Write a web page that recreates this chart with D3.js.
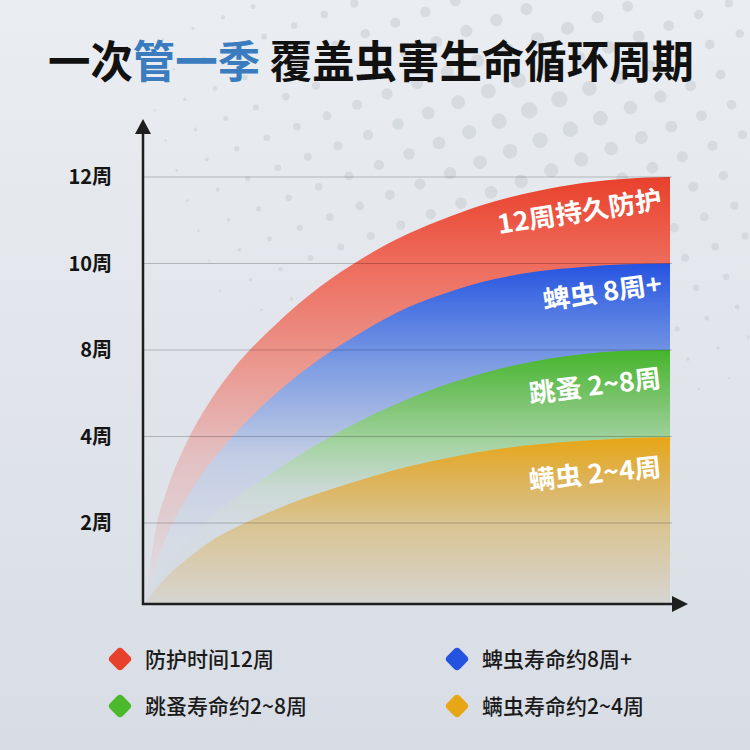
<!DOCTYPE html>
<html>
<head>
<meta charset="utf-8">
<script src="https://cdn.jsdelivr.net/npm/d3@7"></script>
<style>
  html, body { margin: 0; padding: 0; background: #e2e6ec; }
  svg { display: block; }
</style>
</head>
<body>
<div id="chart"></div>
<script>
// Data (levels: 1 = 2周 ... 5 = 12周)
const weeks      = [0, 0.25, 0.5, 1, 1.5, 2, 3, 4, 5, 6, 7, 8, 9, 10, 11, 12];
const protectTop = [0.065, 0.95, 1.38, 1.98, 2.42, 2.77, 3.30, 3.73, 4.07, 4.34, 4.55, 4.72, 4.84, 4.93, 4.98, 5.0];
const tickTop    = [0.065, 0.50, 0.85, 1.33, 1.70, 2.00, 2.50, 2.90, 3.22, 3.49, 3.68, 3.82, 3.91, 3.96, 3.99, 4.0];
const fleaTop    = [0.065, 0.30, 0.50, 0.80, 1.05, 1.26, 1.61, 1.93, 2.20, 2.43, 2.62, 2.77, 2.88, 2.95, 2.99, 3.0];
const miteTop    = [0.065, 0.24, 0.38, 0.60, 0.79, 0.93, 1.16, 1.35, 1.51, 1.65, 1.76, 1.85, 1.91, 1.95, 1.98, 1.99];
const baseLevel = 0.065;

const tickLabels = ["2周", "4周", "8周", "10周", "12周"];
const bandLabels = ["12周持久防护", "蜱虫 8周+", "跳蚤 2~8周", "螨虫 2~4周"];
const legendLabels = ["防护时间12周", "蜱虫寿命约8周+", "跳蚤寿命约2~8周", "螨虫寿命约2~4周"];
const colors = ["#e8412b", "#2553e0", "#4cb82c", "#e6a616"];

const width = 750, height = 750;
const svg = d3.select("#chart").append("svg")
    .attr("width", width)
    .attr("height", height);

const defs = svg.append("defs");

// background gradient
const bg = defs.append("linearGradient").attr("id", "bg")
    .attr("x1", 0).attr("y1", 0).attr("x2", 0).attr("y2", 1);
bg.append("stop").attr("offset", 0).attr("stop-color", "#eaedf1");
bg.append("stop").attr("offset", 1).attr("stop-color", "#d8dde5");
svg.append("rect").attr("width", width).attr("height", height).attr("fill", "url(#bg)");

// halftone dots in the top right
const dots = [];
const ang = -20 * Math.PI / 180;
for (let i = -12; i < 30; i++) {
    for (let j = -12; j < 30; j++) {
        const gx = i * 32, gy = j * 32;
        const px = 100 + gx * Math.cos(ang) - gy * Math.sin(ang);
        const py = -40 + gx * Math.sin(ang) + gy * Math.cos(ang);
        const d = Math.hypot(px - 540, (py - 110) * 1.25);
        const r = 8.5 - d / 52;
        if (r > 0.8 && px > 0 && px < width && py > 0 && py < 520) dots.push([px, py, r]);
    }
}
svg.append("g").selectAll("circle")
    .data(dots)
    .enter().append("circle")
    .attr("cx", d => d[0]).attr("cy", d => d[1]).attr("r", d => d[2])
    .attr("fill", "#c9cdd4").attr("opacity", 0.55);

// scales
const x = d3.scaleLinear().domain([0, 12]).range([145, 670]);
const y = d3.scaleLinear().domain([1, 5]).range([523, 177]);
const axisX = 143, axisY = y(baseLevel);

// band gradients, each fading from its colour to pale grey
const gradStops = [
    [[0, "#e8412b"], [0.2, "#ee6a5a"], [0.45, "#eb978e"], [0.68, "#e3c0c2"], [1, "#dcdde3"]],
    [[0, "#2553e0"], [0.15, "#4a73e2"], [0.37, "#7e9de3"], [0.7, "#c3cde4"], [1, "#d6dce6"]],
    [[0, "#45b52a"], [0.3, "#7cc470"], [0.55, "#a7d4a5"], [0.8, "#cbd9d6"], [1, "#d5dbe2"]],
    [[0, "#e7a616"], [0.25, "#ddb358"], [0.5, "#d9c38f"], [0.75, "#d8ccb0"], [1, "#d6d5d2"]]
];
const gradRange = [[177, 590], [263, 540], [350, 525], [438, 604]];
gradStops.forEach((stops, i) => {
    const g = defs.append("linearGradient").attr("id", "band" + i)
        .attr("gradientUnits", "userSpaceOnUse")
        .attr("x1", 0).attr("x2", 0)
        .attr("y1", gradRange[i][0]).attr("y2", gradRange[i][1]);
    stops.forEach(s => g.append("stop").attr("offset", s[0]).attr("stop-color", s[1]));
});

// draw the bands (each from its curve down to the axis)
const series = [protectTop, tickTop, fleaTop, miteTop];
const area = d3.area()
    .x(d => x(d[0]))
    .y0(axisY)
    .y1(d => y(d[1]))
    .curve(d3.curveMonotoneX);

svg.append("g").selectAll("path")
    .data(series)
    .enter().append("path")
    .attr("d", s => area(weeks.map((w, k) => [w, s[k]])))
    .attr("fill", (s, i) => `url(#band${i})`);

// gridlines
svg.append("g").selectAll("line")
    .data(tickLabels)
    .enter().append("line")
    .attr("x1", axisX).attr("x2", x(12) + 2)
    .attr("y1", (d, i) => y(i + 1)).attr("y2", (d, i) => y(i + 1))
    .attr("stroke", "#000").attr("stroke-opacity", 0.22).attr("stroke-width", 1.2);

// tick labels
svg.append("g").selectAll("text")
    .data(tickLabels)
    .enter().append("text")
    .attr("x", 112).attr("y", (d, i) => y(i + 1))
    .attr("dy", "0.36em")
    .attr("text-anchor", "end")
    .attr("font-family", "'Noto Sans CJK SC', sans-serif")
    .attr("font-weight", 700).attr("font-size", 20)
    .attr("fill", "#141414")
    .text(d => d);

// axes with arrows
const axes = svg.append("g").attr("stroke", "#1e1e1e").attr("stroke-width", 2.5).attr("fill", "none");
axes.append("line").attr("x1", axisX).attr("y1", axisY + 1).attr("x2", axisX).attr("y2", 130);
axes.append("line").attr("x1", axisX - 1).attr("y1", axisY).attr("x2", 676).attr("y2", axisY);
svg.append("path")
    .attr("d", `M${axisX},119 L${axisX - 8},134 L${axisX + 8},134 Z`)
    .attr("fill", "#1e1e1e");
svg.append("path")
    .attr("d", `M688,${axisY} L672,${axisY - 8} L672,${axisY + 8} Z`)
    .attr("fill", "#1e1e1e");

// band labels (white, slightly tilted)
const labelPos = [[663, 208, -9, 166], [663, 293, -8, 120], [662, 387, -7, 133], [662, 476, -6, 133]];
svg.append("g").selectAll("text")
    .data(bandLabels)
    .enter().append("text")
    .attr("transform", (d, i) => `translate(${labelPos[i][0]},${labelPos[i][1]}) rotate(${labelPos[i][2]})`)
    .attr("text-anchor", "end")
    .attr("font-family", "'Noto Sans CJK SC', sans-serif")
    .attr("font-weight", 700).attr("font-size", 26)
    .attr("fill", "#fff")
    .attr("textLength", (d, i) => labelPos[i][3])
    .attr("lengthAdjust", "spacingAndGlyphs")
    .text(d => d);

// title
const title = svg.append("text")
    .attr("x", 48).attr("y", 78)
    .attr("font-family", "'Noto Sans CJK SC', sans-serif")
    .attr("font-weight", 700).attr("font-size", 44)
    .attr("textLength", 646)
    .attr("lengthAdjust", "spacingAndGlyphs")
    .attr("fill", "#111");
title.append("tspan").text("一次");
title.append("tspan").attr("fill", "#3b7cbf").text("管一季");
title.append("tspan").text(" 覆盖虫害生命循环周期");

// legend
const legendPos = [[120, 659], [457, 659], [120, 706], [457, 706]];
const legend = svg.append("g").selectAll("g")
    .data(legendLabels)
    .enter().append("g")
    .attr("transform", (d, i) => `translate(${legendPos[i][0]},${legendPos[i][1]})`);
legend.append("rect")
    .attr("x", -9).attr("y", -9).attr("width", 18).attr("height", 18)
    .attr("rx", 4)
    .attr("transform", "rotate(45)")
    .attr("fill", (d, i) => colors[i]);
legend.append("text")
    .attr("x", 25).attr("dy", "0.36em")
    .attr("font-family", "'Noto Sans CJK SC', sans-serif")
    .attr("font-weight", 500).attr("font-size", 21)
    .attr("fill", "#1a1a1a")
    .text(d => d);
</script>
</body>
</html>
